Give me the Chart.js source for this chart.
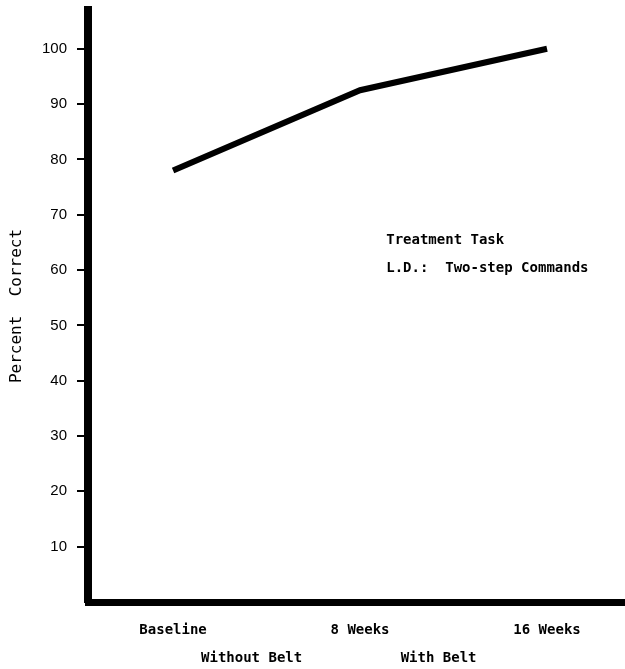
<!DOCTYPE html>
<html>
<head>
<meta charset="utf-8">
<script src="https://cdn.jsdelivr.net/npm/chart.js@4/dist/chart.umd.min.js"></script>
<style>
  html, body { margin: 0; padding: 0; background: #fff; }
  #wrap { width: 625px; height: 669px; }
</style>
</head>
<body>
<div id="wrap"><canvas id="c" width="625" height="669"></canvas></div>
<script>
// ---- data ----
const categories = ['Baseline', '8 Weeks', '16 Weeks'];
const percentCorrect = [78, 92.5, 100];
const groupLabels = ['Without Belt', 'With Belt'];
const yTicks = [10, 20, 30, 40, 50, 60, 70, 80, 90, 100];
const yTitle = 'Percent  Correct';
const noteLines = ['Treatment Task', 'L.D.:  Two-step Commands'];

const MONO = '"DejaVu Sans Mono", "Liberation Mono", monospace';
const SANS = '"Liberation Sans", Arial, sans-serif';

const notePlugin = {
  id: 'note',
  afterDatasetsDraw(chart) {
    const ctx = chart.ctx;
    const xs = chart.scales.x, ys = chart.scales.y;
    ctx.save();
    ctx.fillStyle = '#000';
    ctx.font = 'bold 14px ' + MONO;
    ctx.textBaseline = 'middle';
    ctx.textAlign = 'left';
    const x0 = xs.getPixelForValue(1.14);
    noteLines.forEach((t, i) => {
      ctx.fillText(t, x0, ys.getPixelForValue(65.3 - i * 5));
    });
    ctx.restore();
  }
};

new Chart(document.getElementById('c'), {
  type: 'line',
  data: {
    datasets: [{
      data: percentCorrect.map((v, i) => ({ x: i, y: v })),
      borderColor: '#000',
      borderWidth: 6,
      pointRadius: 0,
      tension: 0,
      fill: false
    }]
  },
  options: {
    responsive: false,
    animation: false,
    layout: { padding: { top: 10, right: 0, left: 0, bottom: 0 } },
    plugins: { legend: { display: false }, tooltip: { enabled: false } },
    scales: {
      x: {
        type: 'linear',
        position: 'bottom',
        min: -0.455,
        max: 2.417,
        afterBuildTicks(s) { s.ticks = categories.map((_, i) => ({ value: i })); },
        afterFit(s) { s.height = 42; s.paddingLeft = 0; s.paddingRight = 0; },
        ticks: {
          color: '#000',
          font: { family: MONO, size: 14, weight: 'bold' },
          padding: 20,
          maxRotation: 0,
          autoSkip: false,
          callback: (v) => categories[v] ?? ''
        },
        grid: { display: false, drawTicks: false },
        border: { display: true, color: '#000', width: 7 }
      },
      x2: {
        type: 'linear',
        position: 'bottom',
        min: -0.455,
        max: 2.417,
        afterBuildTicks(s) { s.ticks = groupLabels.map((_, i) => ({ value: i + 0.42 })); },
        afterFit(s) { s.height = 25; s.paddingLeft = 0; s.paddingRight = 0; },
        ticks: {
          color: '#000',
          font: { family: MONO, size: 14, weight: 'bold' },
          padding: 6,
          maxRotation: 0,
          autoSkip: false,
          callback: function (v) {
            const idx = Math.round(v - 0.42);
            return groupLabels[idx] ?? '';
          }
        },
        grid: { display: false, drawTicks: false },
        border: { display: false }
      },
      y: {
        min: 0,
        max: 107,
        afterBuildTicks(s) { s.ticks = yTicks.map(v => ({ value: v })); },
        afterFit(s) { s.width = 88; s.paddingTop = 0; s.paddingBottom = 0; },
        ticks: {
          color: '#000',
          font: { family: SANS, size: 15 },
          padding: 10
        },
        grid: { drawOnChartArea: false, drawTicks: true, tickLength: 11, color: '#000', lineWidth: 2 },
        border: { display: true, color: '#000', width: 8 },
        title: {
          display: true,
          text: yTitle,
          color: '#000',
          font: { family: MONO, size: 16 },
          padding: { top: 7, bottom: 0 }
        }
      }
    }
  },
  plugins: [notePlugin]
});
</script>
</body>
</html>
